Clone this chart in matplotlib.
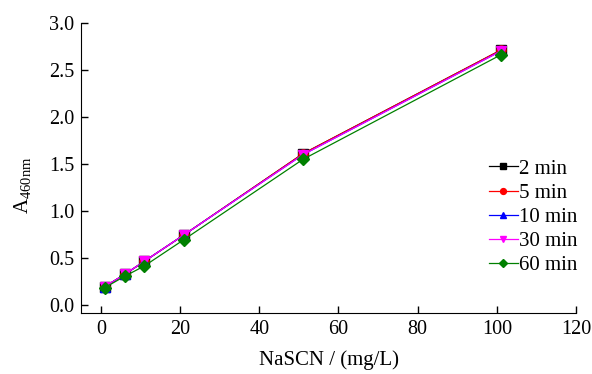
import matplotlib
matplotlib.use('Agg')
import matplotlib.pyplot as plt

plt.rcParams['font.family'] = 'Liberation Serif'
plt.rcParams['mathtext.fontset'] = 'custom'
plt.rcParams['mathtext.rm'] = 'Liberation Serif'

# NaSCN concentration (mg/L)
conc = [1, 6, 11, 21, 51, 101]

# Absorbance at 460 nm for each reaction time
a_2min = [0.20, 0.33, 0.47, 0.75, 1.61, 2.71]
a_5min = [0.20, 0.33, 0.47, 0.75, 1.61, 2.71]
a_10min = [0.20, 0.33, 0.47, 0.75, 1.60, 2.70]
a_30min = [0.20, 0.33, 0.47, 0.75, 1.60, 2.70]
a_60min = [0.19, 0.31, 0.42, 0.70, 1.55, 2.66]

labels = ['2 min', '5 min', '10 min', '30 min', '60 min']
series = [a_2min, a_5min, a_10min, a_30min, a_60min]
colors = ['black', 'red', 'blue', 'magenta', 'green']
markers = ['s', 'o', '^', 'v', 'D']

fig = plt.figure(figsize=(5.92, 3.74), dpi=100)
ax = fig.add_axes([0.137, 0.163, 0.836, 0.776])

for y, lab, c, m in zip(series, labels, colors, markers):
    ax.plot(conc, y, color=c, marker=m, markersize=6.5, linewidth=0.9, label=lab)

ax.set_xlim(-5, 120)
ax.set_ylim(-0.08, 3.0)
ax.set_xticks(range(0, 121, 20))
ax.set_yticks([0.0, 0.5, 1.0, 1.5, 2.0, 2.5, 3.0])
ax.set_yticklabels(['0.0', '0.5', '1.0', '1.5', '2.0', '2.5', '3.0'])
ax.tick_params(direction='in', labelsize=14.5, length=5, width=1, pad=5)
ax.spines['top'].set_visible(False)
ax.spines['right'].set_visible(False)
ax.set_xlabel('NaSCN / (mg/L)', fontsize=15, labelpad=8)
ax.set_ylabel(r'A$_{\mathregular{460nm}}$', fontsize=15)
ax.yaxis.set_label_coords(-0.095, 0.44)

leg = ax.legend(loc='center right', bbox_to_anchor=(1.02, 0.33), frameon=False,
                fontsize=15, handlelength=1.4, handletextpad=0.05, labelspacing=0.22,
                borderaxespad=0.0, markerscale=0.65)

fig.savefig('out.png', dpi=100)
